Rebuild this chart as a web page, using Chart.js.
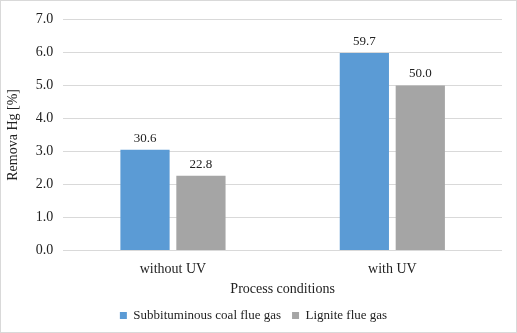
<!DOCTYPE html>
<html>
<head>
<meta charset="utf-8">
<script src="https://cdn.jsdelivr.net/npm/chart.js@4"></script>
<style>
  html, body { margin: 0; padding: 0; background: #fff; }
  .outer-container {
    width: 517px; height: 333px; box-sizing: border-box;
    border: 1px solid #d9d9d9; position: relative;
  }
</style>
</head>
<body>
<div class="outer-container">
  <canvas id="myChart" width="515" height="331"></canvas>
</div>
<script>
const categories = ['without UV', 'with UV']
const subbituminous = [3.05, 5.98]
const lignite = [2.26, 5.0]
const subbituminousLabels = ['30.6', '59.7']
const ligniteLabels = ['22.8', '50.0']
const yTicks = [0, 1, 2, 3, 4, 5, 6, 7]

const textColor = '#222'
const serif = "'Liberation Serif', 'Times New Roman', serif"

// draws the value text over each bar
const barText = {
    id: 'barText',
    afterDatasetsDraw(chart) {
        const ctx = chart.ctx
        ctx.save()
        ctx.font = '13px ' + serif
        ctx.fillStyle = textColor
        ctx.textAlign = 'center'
        ctx.textBaseline = 'bottom'
        chart.data.datasets.forEach((ds, i) => {
            chart.getDatasetMeta(i).data.forEach((bar, j) => {
                ctx.fillText(ds.texts[j], bar.x, bar.y - 5)
            })
        })
        ctx.restore()
    }
}

const ctx = document.getElementById('myChart')
new Chart(ctx, {
    type: 'bar',
    data: {
        labels: categories,
        datasets: [
            {
                label: 'Subbituminous coal flue gas',
                data: subbituminous,
                texts: subbituminousLabels,
                backgroundColor: '#5b9bd5'
            },
            {
                label: 'Lignite flue gas',
                data: lignite,
                texts: ligniteLabels,
                backgroundColor: '#a5a5a5'
            }
        ]
    },
    options: {
        responsive: false,
        animation: false,
        categoryPercentage: 0.51,
        barPercentage: 0.88,
        layout: { padding: { top: 12, right: 14, left: 4, bottom: 0 } },
        plugins: {
            tooltip: { enabled: false },
            legend: {
                position: 'bottom',
                labels: {
                    boxWidth: 7, boxHeight: 7, padding: 11,
                    color: textColor,
                    font: { family: serif, size: 13 }
                }
            }
        },
        scales: {
            x: {
                grid: { display: false },
                border: { display: false },
                ticks: { color: textColor, font: { family: serif, size: 14 }, padding: 3 },
                title: {
                    display: true, text: 'Process conditions',
                    color: textColor, font: { family: serif, size: 14 },
                    padding: { top: 0, bottom: 0 }
                }
            },
            y: {
                min: 0, max: 7,
                afterBuildTicks: axis => { axis.ticks = yTicks.map(v => ({ value: v })) },
                grid: { color: '#d9d9d9', drawTicks: false },
                border: { display: false },
                ticks: {
                    color: textColor, padding: 10,
                    font: { family: serif, size: 14 },
                    callback: v => v.toFixed(1)
                },
                title: {
                    display: true, text: 'Remova Hg [%]',
                    color: textColor, font: { family: serif, size: 14 },
                    padding: { top: 0, bottom: 4 }
                }
            }
        }
    },
    plugins: [barText]
})
</script>
</body>
</html>
